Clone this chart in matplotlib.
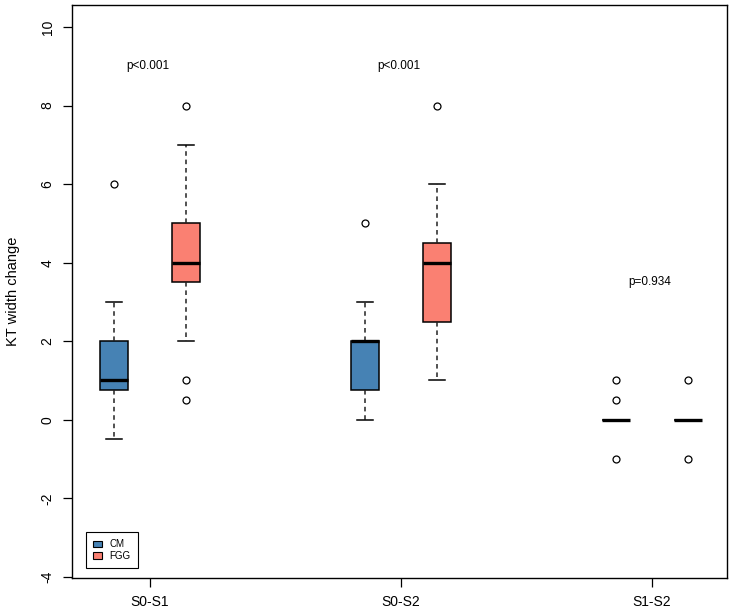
import numpy as np
import matplotlib
matplotlib.use("Agg")
import matplotlib.pyplot as plt
from matplotlib.patches import Patch

plt.rcParams['font.family'] = ['Liberation Sans', 'DejaVu Sans']

# data
groups = ["S0-S1", "S0-S2", "S1-S2"]
series = ["CM", "FGG"]
colors = {"CM": "#4682B4", "FGG": "#FA8072"}

# whisker low, q1, median, q3, whisker high
cm_stats = [[-0.5, 0.75, 1, 2, 3],
            [0, 0.75, 2, 2, 3],
            [0, 0, 0, 0, 0]]
fgg_stats = [[2, 3.5, 4, 5, 7],
             [1, 2.5, 4, 4.5, 6],
             [0, 0, 0, 0, 0]]
cm_out = [[6], [5], [1, 0.5, -1]]
fgg_out = [[8, 1, 0.5], [8], [1, -1]]

pvals = ["p<0.001", "p<0.001", "p=0.934"]
pval_y = [9, 9, 3.5]

def to_bxp(stats, outs, label):
    res = []
    for s, o in zip(stats, outs):
        res.append(dict(whislo=s[0], q1=s[1], med=s[2], q3=s[3], whishi=s[4],
                        fliers=o, label=label))
    return res

fig = plt.figure(figsize=(7.32, 6.14), dpi=100)
ax = fig.add_axes([0.0984, 0.0586, 0.8948, 0.9333])

x = np.arange(1, len(groups) + 1)
off = 0.143
bw = 0.114

for name, stats, outs, sign in [("CM", cm_stats, cm_out, -1), ("FGG", fgg_stats, fgg_out, 1)]:
    ax.bxp(to_bxp(stats, outs, name), positions=x + sign * off, widths=bw,
           patch_artist=True, showfliers=True,
           boxprops=dict(facecolor=colors[name], edgecolor="black", linewidth=1.1),
           medianprops=dict(color="black", linewidth=2.4, solid_capstyle="butt"),
           whiskerprops=dict(color="#222222", linewidth=1.1, linestyle=(0, (3, 2.5))),
           capprops=dict(color="black", linewidth=1.1),
           capwidths=bw * 0.56,
           flierprops=dict(marker="o", markerfacecolor="white", markeredgecolor="black",
                           markersize=5, markeredgewidth=0.9))

for xi, t, yv in zip(x, pvals, pval_y):
    ax.text(xi - 0.01, yv, t, ha="center", va="center", fontsize=8.5)

ax.set_xlim(0.689, 3.299)
ax.set_ylim(-4.03, 10.56)
ax.set_xticks(x)
ax.set_xticklabels(groups, fontsize=10)
ax.set_yticks(np.arange(-4, 11, 2))
ax.set_yticklabels([str(v) for v in range(-4, 11, 2)], fontsize=10,
                   rotation=90, va="center")
ax.tick_params(axis="both", direction="out", length=6.5, width=0.9, pad=6)
ax.set_ylabel("KT width change", fontsize=10.5, labelpad=15)
for sp in ax.spines.values():
    sp.set_linewidth(1.0)

handles = [Patch(facecolor=colors[s], edgecolor="black", linewidth=0.8, label=s) for s in series]
leg = ax.legend(handles=handles, loc="lower left", bbox_to_anchor=(0.021, 0.017),
                borderaxespad=0, fancybox=False, framealpha=1, edgecolor="black",
                fontsize=7, handlelength=0.9, handleheight=0.6, handletextpad=0.8,
                borderpad=0.75, labelspacing=0.2)
leg.get_frame().set_linewidth(0.8)

fig.savefig("out.png", dpi=100)
